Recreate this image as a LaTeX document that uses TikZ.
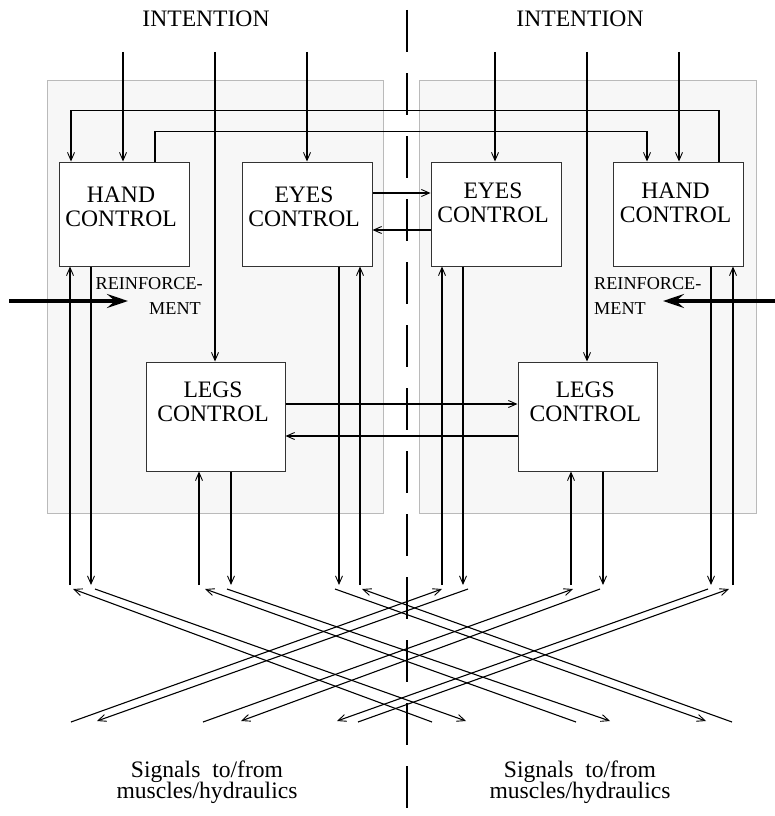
\documentclass[tikz,border=0pt]{standalone}
\usepackage{fontspec}
\setmainfont{Liberation Serif}
\usetikzlibrary{arrows.meta}
\newcommand\mysigfont{\fontsize{23.6}{21.5}\selectfont\setlength{\lineskiplimit}{-50pt}\setlength{\lineskip}{0pt}}
\begin{document}
\begin{tikzpicture}[x=1pt,y=-1pt,
  line/.style={line width=1.1pt, black},
  arr/.style={line, -{Straight Barb[length=8pt,width=7pt,line width=0.9pt]}},
  panel/.style={draw=black!27, fill=black!3, line width=1pt},
  box/.style={draw=black!80, fill=white, line width=1pt, inner sep=0pt},
  boxtext/.style={font=\fontsize{23.6}{24}\selectfont, align=center, inner sep=0pt},
  bigtext/.style={font=\fontsize{23.6}{24}\selectfont, inner sep=0pt, anchor=base},
  sigtext/.style={font=\mysigfont, align=center, inner sep=0pt},
  smalltext/.style={font=\fontsize{18.2}{18}\selectfont, inner sep=0pt},
  bigarrow/.style={line width=3.5pt, -{Stealth[length=21pt,width=14pt,inset=8pt]}},
  centreline/.style={line width=1.1pt, dash pattern=on 42pt off 21pt}
]
\useasboundingbox (0,0) rectangle (775,816);

% panels
\draw[panel] (47,80) rectangle (383,513);
\draw[panel] (419,80) rectangle (756,513);

% centre line
\draw[centreline] (407,10) -- (407,812);

% boxes
\node[box, minimum width=130pt, minimum height=104pt] (handL) at (124,214) {};
\node[box, minimum width=130pt, minimum height=104pt] (eyesL) at (307,214) {};
\node[box, minimum width=130pt, minimum height=104pt] (eyesR) at (496,214) {};
\node[box, minimum width=130pt, minimum height=104pt] (handR) at (678.5,214) {};
\node[box, minimum width=139pt, minimum height=109pt] (legsL) at (215.5,416.5) {};
\node[box, minimum width=139pt, minimum height=109pt] (legsR) at (587.5,416.5) {};

\node[boxtext] (handLt) at (121,207.2) {HAND\\CONTROL};
\node[boxtext] (eyesLt) at (304,207.2) {EYES\\CONTROL};
\node[boxtext] (eyesRt) at (493,202.5) {EYES\\CONTROL};
\node[boxtext] (handRt) at (675.5,202.5) {HAND\\CONTROL};
\node[boxtext] (legsLt) at (213,402.2) {LEGS\\CONTROL};
\node[boxtext] (legsRt) at (585.3,402.2) {LEGS\\CONTROL};

% texts
\node[bigtext] (intL) at (206,27) {INTENTION};
\node[bigtext] (intR) at (580,27) {INTENTION};
\node[sigtext] (sigL) at (207,782.3) {Signals\ \ to/from\\muscles/hydraulics};
\node[sigtext] (sigR) at (580,782.3) {Signals\ \ to/from\\muscles/hydraulics};
\node[smalltext, anchor=base east] (reL1) at (203,289) {REINFORCE-};
\node[smalltext, anchor=base east] (reL2) at (201,314) {MENT};
\node[smalltext, anchor=base west] (reR1) at (594,289) {REINFORCE-};
\node[smalltext, anchor=base west] (reR2) at (594,314) {MENT};

% intention inputs
\coordinate (iHL) at (123,52);
\coordinate (iLL) at (215,52);
\coordinate (iEL) at (307,52);
\coordinate (iER) at (495,52);
\coordinate (iLR) at (587,52);
\coordinate (iHR) at (679,52);
\draw[arr] (iHL) -- (iHL |- handL.north);
\draw[arr] (iLL) -- (iLL |- legsL.north);
\draw[arr] (iEL) -- (iEL |- eyesL.north);
\draw[arr] (iER) -- (iER |- eyesR.north);
\draw[arr] (iLR) -- (iLR |- legsR.north);
\draw[arr] (iHR) -- (iHR |- handR.north);

% hand cross links
\draw[arr] ([xshift=40.5pt]handR.north) -- ++(0,-51) -| ([xshift=-53pt]handL.north);
\draw[arr] ([xshift=31pt]handL.north) -- ++(0,-30) -| ([xshift=-31.5pt]handR.north);

% eyes links
\draw[arr] ([yshift=21pt]eyesL.east) -- ([yshift=21pt]eyesR.west);
\draw[arr] ([yshift=-16pt]eyesR.west) -- ([yshift=-16pt]eyesL.east);

% legs links
\draw[arr] ([yshift=12.5pt]legsL.east) -- ([yshift=12.5pt]legsR.west);
\draw[arr] ([yshift=-19.5pt]legsR.west) -- ([yshift=-19.5pt]legsL.east);

% feedback inputs (up) and outputs (down)
\foreach \x/\b/\n in {70/handL/a, 360/eyesL/b, 199/legsL/c, 442/eyesR/d, 571/legsR/e, 733/handR/f} {
  \coordinate (up\n) at (\x,585);
  \draw[arr] (up\n) -- (up\n |- \b.south);
}
\foreach \x/\b/\n in {91/handL/a, 339/eyesL/b, 231/legsL/c, 463/eyesR/d, 603/legsR/e, 711/handR/f} {
  \coordinate (dn\n) at (\x,585);
  \draw[arr] (dn\n |- \b.south) -- (dn\n);
}

% crossing signal lines: bottom start -> top arrow
\foreach \bx/\tx/\n in {71/442/a, 203/573/b, 358/729/c, 432/73/d, 576/205/e, 732/362/f} {
  \coordinate (sb\n) at (\bx,722);
  \coordinate (st\n) at (\tx,589);
  \draw[arr] (sb\n) -- (st\n);
}
% top start -> bottom arrow
\foreach \tx/\bx/\n in {95/466/a, 227/610/b, 335/706/c, 468/97/d, 600/241/e, 708/337/f} {
  \coordinate (ot\n) at (\tx,589);
  \coordinate (ob\n) at (\bx,721);
  \draw[arr] (ot\n) -- (ob\n);
}

% reinforcement
\coordinate (rLs) at (9,301);
\coordinate (rLe) at (128,301);
\coordinate (rRs) at (775,301);
\coordinate (rRe) at (663,301);
\draw[bigarrow] (rLs) -- (rLe);
\draw[bigarrow] (rRs) -- (rRe);
\end{tikzpicture}
\end{document}
